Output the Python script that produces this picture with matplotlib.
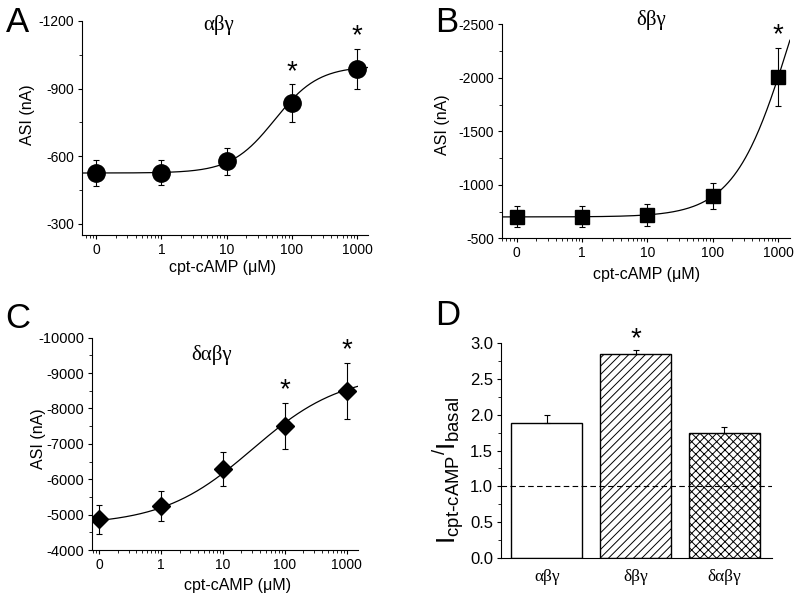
import numpy as np
import matplotlib
matplotlib.use('Agg')
import matplotlib.pyplot as plt
from matplotlib.ticker import FixedLocator, FixedFormatter, MultipleLocator, LogLocator, NullFormatter

plt.rcParams['font.family'] = ['Liberation Sans', 'DejaVu Sans']
plt.rcParams['hatch.linewidth'] = 0.7
plt.rcParams['axes.linewidth'] = 0.8

# cpt-cAMP concentrations (uM); "0" sits at 0.1 on the log axis
conc = [0.1, 1, 10, 100, 1000]
conc_labels = ['0', '1', '10', '100', '1000']

# panel A - abg
asi_abg = [-525, -527, -577, -836, -986]
err_abg = [58, 55, 59, 83, 90]
star_abg = [100, 1000]
fit_abg = [-525, -1000, 55, 1.3]      # bottom, top, EC50, hill

# panel B - dbg
asi_dbg = [-702, -702, -718, -893, -2008]
err_dbg = [100, 100, 104, 123, 270]
star_dbg = [1000]
fit_dbg = [-700, -4000, 1508, 1.025]

# panel C - dabg
asi_dabg = [-4876, -5252, -6289, -7504, -8493]
err_dabg = [410, 424, 470, 660, 790]
star_dabg = [100, 1000]
fit_dabg = [-4700, -9000, 30, 0.6]

# panel D - ratio cpt-cAMP / basal
groups = ['αβγ', 'δβγ', 'δαβγ']
ratio = [1.88, 2.85, 1.74]
ratio_err = [0.12, 0.05, 0.09]
star_groups = [1]
hatches = ['', '////', 'xxxx']


def hill(x, p):
    bottom, top, ec50, n = p
    return bottom + (top - bottom) * x**n / (ec50**n + x**n)


def style_axes(ax):
    ax.spines['top'].set_visible(False)
    ax.spines['right'].set_visible(False)
    ax.tick_params(which='major', direction='out', length=3, width=0.8, pad=2.5)
    ax.tick_params(which='minor', direction='out', length=2, width=0.6)


def dose_panel(ax, y, err, fit, stars, marker, ms, xlim, ylim, yticks, yminor,
               title, title_xy, curve_from_axis=True, ytick_size=10):
    x0 = xlim[0] if curve_from_axis else conc[0]
    xs = np.logspace(np.log10(x0), np.log10(xlim[1]), 300)
    ax.plot(xs, hill(xs, fit), color='black', lw=0.9, zorder=2)
    ax.errorbar(conc, y, yerr=err, fmt=marker, ms=ms, color='black',
                ecolor='black', elinewidth=0.8, capsize=2.5, capthick=0.8, zorder=3)
    for s in stars:
        i = conc.index(s)
        ax.annotate('*', xy=(s, y[i] - err[i]), xytext=(0, 9),
                    textcoords='offset points', ha='center', va='center',
                    fontsize=20)
    ax.set_xscale('log')
    ax.set_xlim(*xlim)
    ax.set_ylim(*ylim)
    ax.xaxis.set_major_locator(FixedLocator(conc))
    ax.xaxis.set_major_formatter(FixedFormatter(conc_labels))
    ax.xaxis.set_minor_locator(LogLocator(base=10, subs=np.arange(2, 10)))
    ax.xaxis.set_minor_formatter(NullFormatter())
    ax.yaxis.set_major_locator(FixedLocator(yticks))
    ax.yaxis.set_major_formatter(FixedFormatter([str(v) for v in yticks]))
    ax.yaxis.set_minor_locator(MultipleLocator(yminor))
    style_axes(ax)
    ax.tick_params(axis='x', labelsize=10)
    ax.tick_params(axis='y', labelsize=ytick_size)
    ax.set_xlabel('cpt-cAMP (μM)', fontsize=11.5, va='center')
    ax.set_ylabel('ASI (nA)', fontsize=11.5, va='center')
    ax.text(title_xy[0], title_xy[1], title, transform=ax.transAxes,
            ha='center', va='center', fontsize=15, family='Liberation Serif')


fig = plt.figure(figsize=(8, 5.97), dpi=100)

axA = fig.add_axes([0.1025, 0.6064, 0.3575, 0.3585])
dose_panel(axA, asi_abg, err_abg, fit_abg, star_abg, 'o', 12.5,
           (0.0604, 1475), (-250, -1200), [-1200, -900, -600, -300], 150,
           'αβγ', (0.476, 0.98))
axA.xaxis.set_label_coords(0.492, -0.150)
axA.yaxis.set_label_coords(-0.189, 0.561)

axB = fig.add_axes([0.627, 0.6008, 0.3604, 0.3585])
dose_panel(axB, asi_dbg, err_dbg, fit_dbg, star_dbg, 's', 9.5,
           (0.059, 1510), (-500, -2500), [-2500, -2000, -1500, -1000, -500], 250,
           'δβγ', (0.52, 1.02))
axB.xaxis.set_label_coords(0.503, -0.171)
axB.yaxis.set_label_coords(-0.206, 0.529)

axC = fig.add_axes([0.1146, 0.0787, 0.3333, 0.3556])
dose_panel(axC, asi_dabg, err_dabg, fit_dabg, star_dabg, 'D', 9.5,
           (0.0762, 1540), (-4000, -10000),
           [-10000, -9000, -8000, -7000, -6000, -5000, -4000], 500,
           'δαβγ', (0.449, 0.918), curve_from_axis=False, ytick_size=10.5)
axC.xaxis.set_label_coords(0.546, -0.165)
axC.yaxis.set_label_coords(-0.200, 0.523)

# panel D bars
axD = fig.add_axes([0.626, 0.0648, 0.3384, 0.3611])
pos = np.arange(len(groups))
axD.bar(pos, ratio, width=0.8, color='white', edgecolor='black', lw=1.0,
        hatch=hatches, zorder=2)
axD.errorbar(pos, ratio, yerr=[np.zeros(len(ratio)), ratio_err], fmt='none',
             ecolor='black', elinewidth=0.8, capsize=2.5, capthick=0.8, zorder=3)
axD.axhline(1.0, color='black', lw=0.8, ls=(0, (5, 3)), zorder=4)
for g in star_groups:
    axD.annotate('*', xy=(pos[g], ratio[g] + ratio_err[g]), xytext=(0, 8),
                 textcoords='offset points', ha='center', va='center', fontsize=20)
axD.set_xlim(-0.52, 2.53)
axD.set_ylim(0, 3.0)
axD.yaxis.set_major_locator(MultipleLocator(0.5))
axD.yaxis.set_minor_locator(MultipleLocator(0.25))
axD.yaxis.set_major_formatter(matplotlib.ticker.FormatStrFormatter('%.1f'))
axD.set_xticks(pos)
axD.set_xticklabels(groups, family='Liberation Serif', fontsize=12.5)
style_axes(axD)
axD.tick_params(axis='x', length=0, pad=8)
axD.tick_params(axis='y', labelsize=12)
axD.set_ylabel(r'$\mathregular{I_{cpt\text{-}cAMP}{}^{/}I_{basal}}$', fontsize=19, va='center')
axD.yaxis.set_label_coords(-0.195, 0.41)

# panel letters
for letter, x, y in [('A', 0.0075, 0.946), ('B', 0.544, 0.946),
                     ('C', 0.006, 0.4506), ('D', 0.544, 0.4556)]:
    fig.text(x, y, letter, fontsize=25, ha='left', va='baseline')

fig.savefig('out.png', dpi=100)
